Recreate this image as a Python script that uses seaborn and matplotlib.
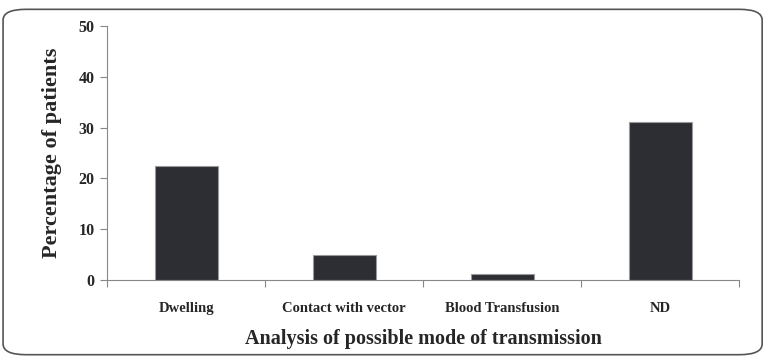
import matplotlib
matplotlib.use('Agg')
import matplotlib.pyplot as plt
from matplotlib.patches import FancyBboxPatch
import numpy as np
import pandas as pd
import seaborn as sns

# Chart data
modes = ['Dwelling', 'Contact with vector', 'Blood Transfusion', 'ND']
percentages = [22.4, 4.9, 1.2, 31.1]
y_ticks = [0, 10, 20, 30, 40, 50]

df = pd.DataFrame({'mode': modes, 'pct': percentages})

sns.set_style('white')
plt.rcParams['font.family'] = ['Liberation Serif', 'DejaVu Serif']
plt.rcParams['font.weight'] = 'bold'

fig = plt.figure(figsize=(7.66, 3.59), dpi=100)
ax = fig.add_axes([0.14, 0.22, 0.825, 0.707])

sns.barplot(data=df, x='mode', y='pct', color='#2d2e33', width=0.4,
            edgecolor='#9a9a9a', linewidth=0.8, saturation=1, ax=ax)

ax.set_xlim(-0.5, len(modes) - 0.5)
ax.set_ylim(0, 50)
ax.set_yticks(y_ticks)
ax.set_yticklabels([str(t) for t in y_ticks], fontsize=11.5, fontweight='bold')
ax.set_xticks(range(len(modes)))
ax.set_xticklabels(modes, fontsize=10.5, fontweight='bold')
ax.set_xticks(np.arange(-0.5, len(modes)), minor=True)
ax.tick_params(axis='x', which='major', bottom=False, length=0, pad=16)
ax.tick_params(axis='x', which='minor', bottom=True, length=5, direction='out', color='#888888', width=0.8)
ax.tick_params(axis='y', left=True, length=5, direction='out', color='#888888', width=0.8, pad=4)

for side in ['top', 'right']:
    ax.spines[side].set_visible(False)
for side in ['left', 'bottom']:
    ax.spines[side].set_color('#888888')
    ax.spines[side].set_linewidth(0.8)

ax.set_xlabel('Analysis of possible mode of transmission', fontsize=14.5, fontweight='bold', labelpad=10)
ax.set_ylabel('Percentage of patients', fontsize=16, fontweight='bold', labelpad=12)

# rounded frame around the figure
frame = FancyBboxPatch((0.004, 0.012), 0.991, 0.962, boxstyle='round,pad=0,rounding_size=0.03',
                       transform=fig.transFigure, fill=False, edgecolor='#555555', linewidth=1.2)
fig.patches.append(frame)

fig.savefig('out.png', dpi=100)
